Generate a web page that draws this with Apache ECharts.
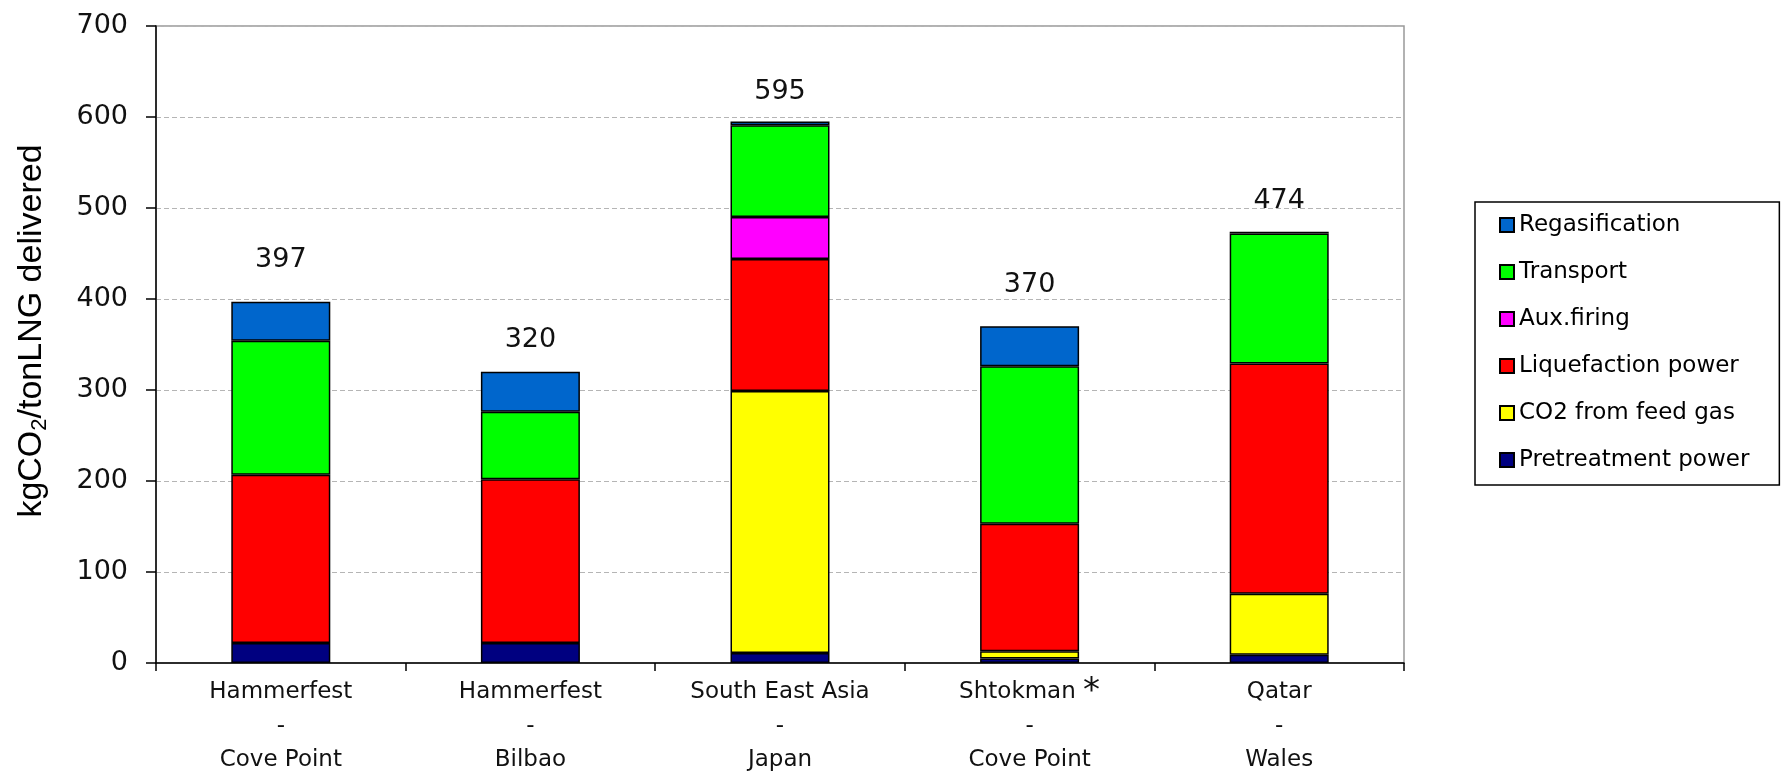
<!DOCTYPE html>
<html>
<head>
<meta charset="utf-8">
<title>CO2 emissions per ton LNG delivered</title>
<script src="https://cdn.jsdelivr.net/npm/echarts@6/dist/echarts.min.js"></script>
<style>
  html, body { margin: 0; padding: 0; background: #fff; }
  #chart { width: 1783px; height: 772px; }
</style>
</head>
<body>
<div id="chart"></div>
<script>
// Supply chains (origin - destination)
const routes = [
  'Hammerfest\n-\nCove Point',
  'Hammerfest\n-\nBilbao',
  'South East Asia\n-\nJapan',
  'Shtokman {ast|*}\n-\nCove Point',
  'Qatar\n-\nWales'
];

// Emission contributions, kg CO2 per ton LNG delivered
const pretreatmentPower = [22, 22, 11, 5, 9];
const co2FromFeedGas    = [0, 0, 288, 8, 67];
const liquefactionPower = [185, 180, 145, 140, 253];
const auxFiring         = [0, 0, 46, 0, 0];
const transport         = [147, 74, 101, 173, 143];
const regasification    = [43, 44, 4, 44, 2];

// Value axis ticks
const yTicks = [0, 100, 200, 300, 400, 500, 600, 700];

// Chain totals = sum of all contributions
const totals = routes.map((_, i) =>
  pretreatmentPower[i] + co2FromFeedGas[i] + liquefactionPower[i] +
  auxFiring[i] + transport[i] + regasification[i]);

// Extra lift of each total label above its bar (px)
const totalLabelLift = [27, 17, 15, 26, 16];

const FONT = 'DejaVu Sans';

const stackDefs = [
  { name: 'Pretreatment power', data: pretreatmentPower, color: '#000080' },
  { name: 'CO2 from feed gas',  data: co2FromFeedGas,    color: '#FFFF00' },
  { name: 'Liquefaction power', data: liquefactionPower, color: '#FF0000' },
  { name: 'Aux.firing',         data: auxFiring,         color: '#FF00FF' },
  { name: 'Transport',          data: transport,         color: '#00FF00' },
  { name: 'Regasification',     data: regasification,    color: '#0066CC' }
];

const series = stackDefs.map((s, si) => {
  const isTop = si === stackDefs.length - 1;
  return {
    name: s.name,
    type: 'bar',
    stack: 'total',
    barWidth: 99,
    itemStyle: { color: s.color, borderColor: '#000', borderWidth: 1.5 },
    emphasis: { disabled: true },
    data: s.data.map((v, i) => {
      const item = { value: v === 0 ? null : v };
      if (isTop) {
        item.label = {
          show: true,
          position: 'top',
          distance: totalLabelLift[i],
          formatter: () => String(totals[i]),
          fontFamily: FONT,
          fontSize: 27,
          lineHeight: 30,
          color: '#111'
        };
      }
      return item;
    })
  };
});

const chart = echarts.init(document.getElementById('chart'), null, { renderer: 'canvas' });

chart.setOption({
  backgroundColor: '#fff',
  animation: false,
  grid: {
    left: 156, right: 379, top: 26, bottom: 109,
    outerBoundsMode: 'none',
    containLabel: false,
    show: true, borderColor: '#999', borderWidth: 1.5, backgroundColor: 'transparent'
  },
  legend: {
    orient: 'vertical',
    left: 1475,
    top: 202,
    padding: [10, 30, 12, 24],
    itemGap: 21,
    itemWidth: 14,
    itemHeight: 14,
    icon: 'rect',
    borderColor: '#000',
    borderWidth: 1.5,
    backgroundColor: '#fff',
    data: ['Regasification', 'Transport', 'Aux.firing', 'Liquefaction power', 'CO2 from feed gas', 'Pretreatment power'],
    textStyle: { fontFamily: FONT, fontSize: 23, lineHeight: 26, color: '#000' }
  },
  xAxis: {
    type: 'category',
    data: routes,
    axisLine: { lineStyle: { color: '#000', width: 1.5 } },
    axisTick: { show: true, length: 8, alignWithLabel: false, lineStyle: { color: '#000', width: 1.5 } },
    axisLabel: {
      interval: 0,
      margin: 12,
      fontFamily: FONT,
      fontSize: 23,
      lineHeight: 34,
      color: '#111',
      rich: {
        ast: { fontFamily: FONT, fontSize: 34, lineHeight: 34, color: '#111' }
      }
    }
  },
  yAxis: {
    type: 'value',
    min: yTicks[0],
    max: yTicks[yTicks.length - 1],
    interval: yTicks[1] - yTicks[0],
    axisLine: { show: true, lineStyle: { color: '#000', width: 1.5 } },
    axisTick: { show: true, length: 10, lineStyle: { color: '#000', width: 1.5 } },
    axisLabel: { margin: 28, fontFamily: FONT, fontSize: 27, color: '#111' },
    splitLine: { show: true, lineStyle: { color: '#b5b5b5', width: 1, type: [5, 3] } }
  },
  graphic: [{
    type: 'text',
    x: 32,
    y: 331,
    rotation: Math.PI / 2,
    style: {
      text: 'kgCO{sub|2}/tonLNG delivered',
      fontFamily: 'Liberation Sans',
      fontSize: 34,
      fill: '#000',
      align: 'center',
      verticalAlign: 'middle',
      rich: {
        sub: { fontFamily: 'Liberation Sans', fontSize: 22, padding: [15, 0, 0, 0], fill: '#000' }
      }
    }
  }],
  series: series
});
</script>
</body>
</html>
